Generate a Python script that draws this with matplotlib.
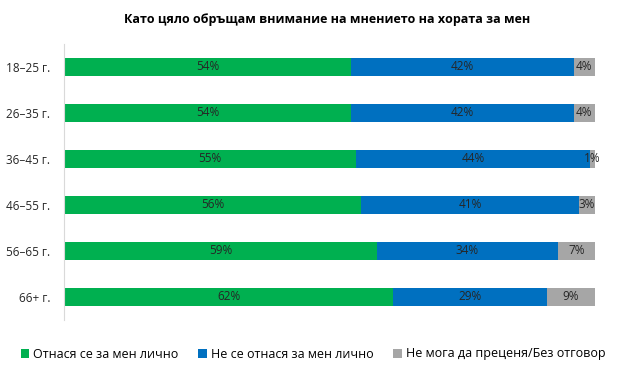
import matplotlib.pyplot as plt
import numpy as np

plt.rcParams['font.family'] = ['Open Sans', 'DejaVu Sans']

groups = ["18–25 г.", "26–35 г.", "36–45 г.", "46–55 г.", "56–65 г.", "66+ г."]
applies = [54, 54, 55, 56, 59, 62]
not_applies = [42, 42, 44, 41, 34, 29]
no_answer = [4, 4, 1, 3, 7, 9]
series_names = ["Отнася се за мен лично", "Не се отнася за мен лично",
                "Не мога да преценя/Без отговор"]
colors = ["#00B050", "#0070C0", "#A6A6A6"]

fig = plt.figure(figsize=(6.3, 3.89), dpi=100)
ax = fig.add_axes([64 / 630, 1 - 320 / 389, 531 / 630, 276 / 389])

y = np.arange(len(groups))
left = np.zeros(len(groups))
handles = []
for vals, name, col in zip([applies, not_applies, no_answer], series_names, colors):
    vals = np.array(vals, dtype=float)
    bars = ax.barh(y, vals, left=left, height=0.4, color=col, label=name)
    handles.append(bars)
    for yi, l, v in zip(y, left, vals):
        ax.text(l + v / 2, yi, f"{int(v)}%", ha="center", va="center",
                fontsize=8.5, color="#262626")
    left += vals

ax.set_xlim(0, 100)
ax.set_ylim(len(groups) - 0.5, -0.5)
ax.set_yticks(y)
ax.set_yticklabels(groups, fontsize=8.5, color="#262626")
ax.tick_params(axis="y", length=0, pad=10)
ax.set_xticks([])
for s in ["top", "right", "bottom"]:
    ax.spines[s].set_visible(False)
ax.spines["left"].set_color("#D9D9D9")

fig.text(0.52, 1 - 20 / 389, "Като цяло обръщам внимание на мнението на хората за мен",
         ha="center", va="center", fontsize=9, fontweight="bold", color="#000000")

fig.legend(handles=handles, loc="center", bbox_to_anchor=(0.497, 1 - 354 / 389),
           ncol=3, frameon=False, fontsize=9, handlelength=0.7, handleheight=0.7,
           handletextpad=0.3, columnspacing=1.6)

fig.savefig("out.png", dpi=100)
